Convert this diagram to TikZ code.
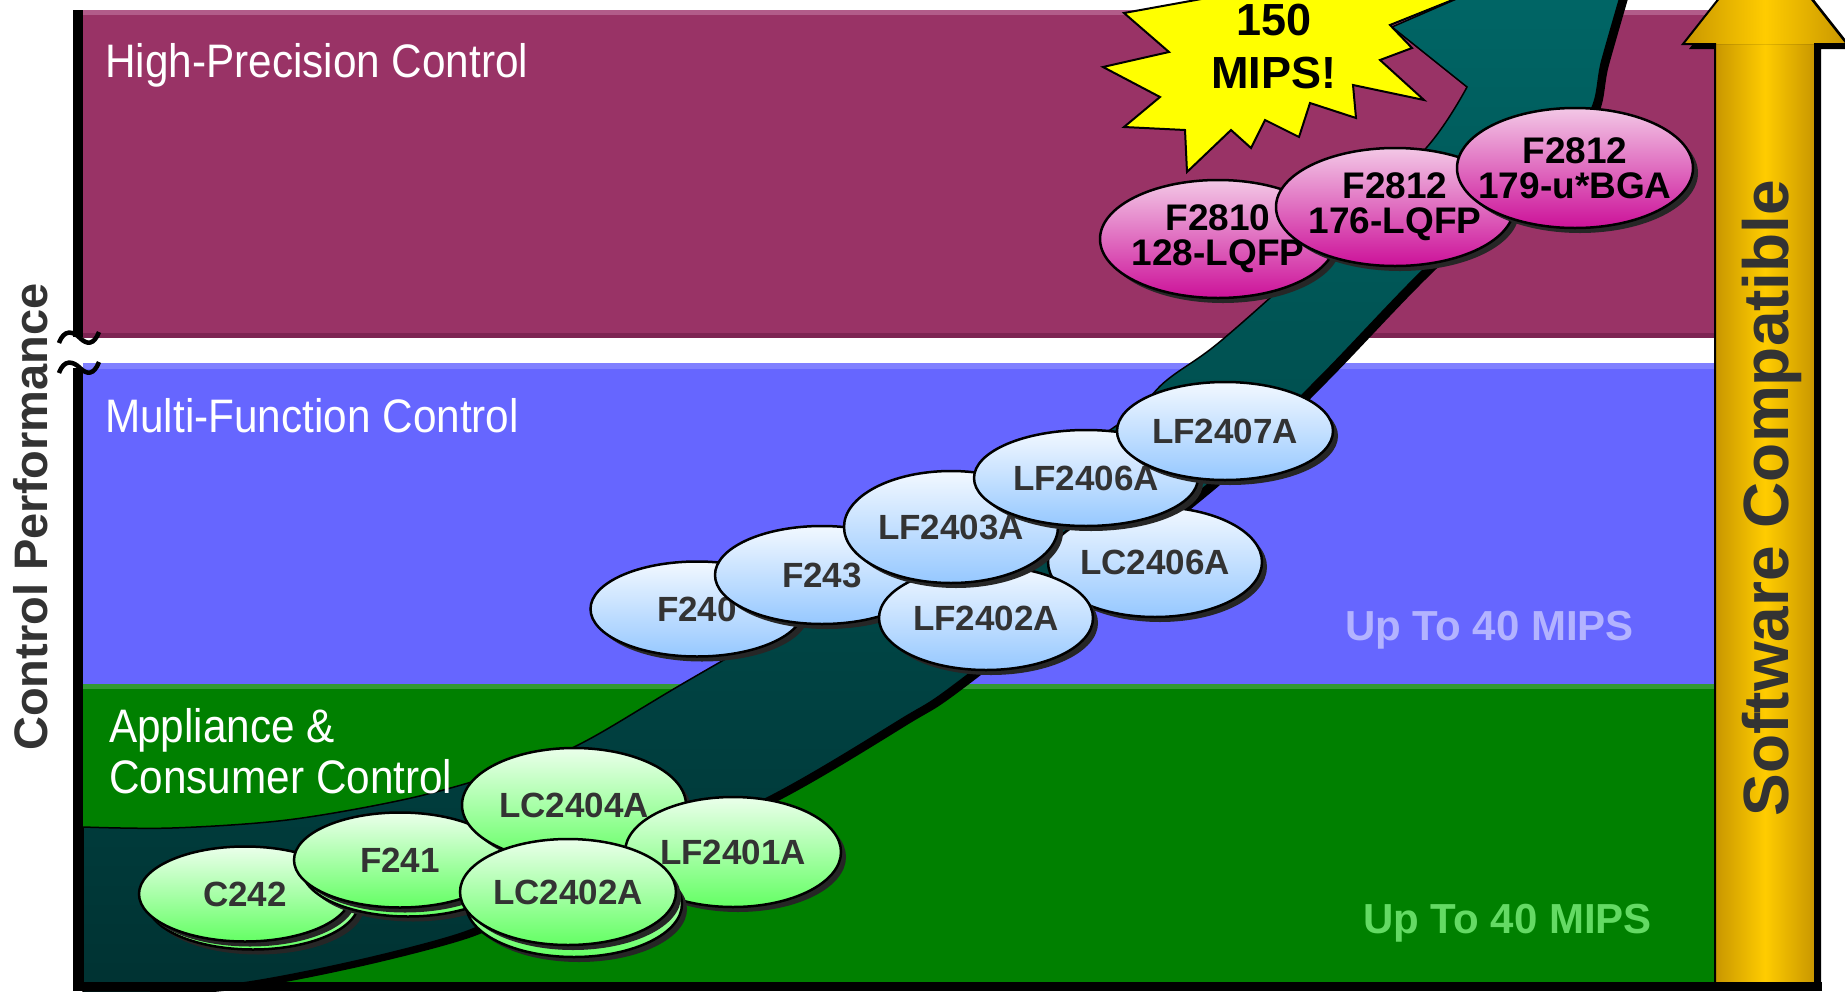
\documentclass[tikz,border=0pt]{standalone}
\usepackage{fontspec}
\setmainfont{Liberation Sans}
\newfontfamily\bandfont[FakeStretch=0.9]{Liberation Sans}
\usetikzlibrary{shapes.geometric,shadows}

\definecolor{hpband}{RGB}{153,51,102}
\definecolor{hpedge}{RGB}{178,92,138}
\definecolor{hpbase}{RGB}{125,36,82}
\definecolor{mfband}{RGB}{102,102,255}
\definecolor{mfedge}{RGB}{128,128,255}
\definecolor{acband}{RGB}{0,128,0}
\definecolor{acedge}{RGB}{51,153,51}
\definecolor{tealtop}{RGB}{0,102,102}
\definecolor{tealbot}{RGB}{0,50,50}
\definecolor{burst}{RGB}{255,255,0}
\definecolor{pinktop}{RGB}{243,200,230}
\definecolor{pinkbot}{RGB}{204,17,153}
\definecolor{bluetop}{RGB}{242,248,255}
\definecolor{bluebot}{RGB}{150,200,255}
\definecolor{greentop}{RGB}{235,255,235}
\definecolor{greenbot}{RGB}{100,255,100}
\definecolor{golddark}{RGB}{200,150,0}
\definecolor{goldmid}{RGB}{255,204,0}
\definecolor{labelgray}{RGB}{51,51,51}
\definecolor{mipsblue}{RGB}{179,179,255}
\definecolor{mipsgreen}{RGB}{100,218,100}

\begin{document}
\begin{tikzpicture}[x=1pt, y=-1pt, font=\fontsize{35}{36}\selectfont]
\tikzstyle{chip}=[ellipse, draw=black, line width=2.5pt, inner sep=-15pt, align=center, text=labelgray, font=\fontsize{35}{35}\selectfont\bfseries, drop shadow={shadow xshift=5pt, shadow yshift=-5pt, fill=black!85, opacity=1}]
\tikzstyle{pinkchip}=[chip, top color=pinktop, bottom color=pinkbot, text=black, font=\fontsize{37}{35}\selectfont\bfseries]
\tikzstyle{bluechip}=[chip, top color=bluetop, bottom color=bluebot]
\tikzstyle{greenchip}=[chip, top color=greentop, bottom color=greenbot]
\tikzstyle{bandtitle}=[anchor=base west, inner sep=0pt, text=white, font=\bandfont\fontsize{47}{51}\selectfont]
\tikzstyle{mips}=[anchor=base west, inner sep=0pt, font=\fontsize{42}{42}\selectfont\bfseries]
\tikzstyle{gold}=[left color=golddark, right color=golddark, middle color=goldmid]
\useasboundingbox (0,0) rectangle (1845,991);
\clip (0,0) rectangle (1845,991);

% bands
\fill[hpband] (83,10) rectangle (1715,338);
\fill[hpedge] (83,10) rectangle (1715,15);
\fill[hpbase] (83,333) rectangle (1715,338);
\fill[mfband] (83,363) rectangle (1715,684);
\fill[mfedge] (83,363) rectangle (1715,369);
\fill[acband] (83,684) rectangle (1715,982);
\fill[acedge] (83,684) rectangle (1715,689);

% growth swoosh
\path[draw=black, line width=1.5pt, top color=tealtop, bottom color=tealbot,
  preaction={fill=black, transform canvas={xshift=7pt, yshift=-5pt}}]
  (83,992) -- (83,827)
  -- plot[smooth, tension=0.55] coordinates {(83,827) (172,828) (287,820) (402,800) (488,777) (574,747) (689,680) (900,558) (1110,430) (1167,380) (1222,340) (1330,243) (1427,147) (1467,87)}
  -- (1392,27) -- (1500,-20) -- (1625,-20)
  -- plot[smooth, tension=0.55] coordinates {(1625,-20) (1602,60) (1588,115) (1530,170) (1420,273) (1317,380) (1213,480) (970,673) (900,720) (769,797) (631,857) (517,907) (462,933) (360,960) (249,982) (150,992)}
  -- cycle;

% starburst
\draw[fill=burst, line width=2pt] (1240,-8) -- (1124,13) -- (1169,52) -- (1103,67) -- (1160,97) -- (1124,127) -- (1185,130) -- (1187,172) -- (1231,130) -- (1251,148) -- (1265,120) -- (1299,137) -- (1310,103) -- (1356,118) -- (1353,85) -- (1424,100) -- (1380,60) -- (1412,48) -- (1390,25) -- (1480,-11) -- (1330,-40) -- cycle;
\node[align=center, anchor=base, inner sep=0pt, font=\fontsize{45}{53}\selectfont\bfseries] (burstlbl) at (1274,88) {150\\MIPS!};

% high-precision devices
\node[pinkchip, minimum width=236pt, minimum height=118pt] (f2810) at (1218,239) {F2810\\128-LQFP};
\node[pinkchip, minimum width=238pt, minimum height=118pt] (f2812q) at (1395,207) {F2812\\176-LQFP};
\node[pinkchip, minimum width=236pt, minimum height=120pt] (f2812b) at (1575,168) {F2812\\179-u*BGA};

% multi-function devices
\node[bluechip, minimum width=213pt, minimum height=95pt] (f240) at (697,609) {F240};
\node[bluechip, minimum width=214pt, minimum height=98pt] (f243) at (822,575) {F243};
\node[bluechip, minimum width=214pt, minimum height=110pt] (lc2406a) at (1155,562) {LC2406A};
\node[bluechip, minimum width=214pt, minimum height=104pt] (lf2402a) at (986,618) {LF2402A};
\node[bluechip, minimum width=214pt, minimum height=112pt] (lf2403a) at (951,527) {LF2403A};
\node[bluechip, minimum width=224pt, minimum height=96pt] (lf2406a) at (1086,478) {LF2406A};
\node[bluechip, minimum width=216pt, minimum height=98pt] (lf2407a) at (1225,431) {LF2407A};

% appliance devices
\node[greenchip, minimum width=212pt, minimum height=95pt] (c242s) at (253,902) {};
\node[greenchip, minimum width=212pt, minimum height=95pt] (c242) at (245,894) {C242};
\node[greenchip, minimum width=212pt, minimum height=95pt] (f241s) at (408,869) {};
\node[greenchip, minimum width=212pt, minimum height=95pt] (f241) at (400,860) {F241};
\node[greenchip, minimum width=224pt, minimum height=114pt] (lc2404a) at (574,805) {LC2404A};
\node[greenchip, minimum width=216pt, minimum height=110pt] (lf2401a) at (733,852) {LF2401A};
\node[greenchip, minimum width=216pt, minimum height=106pt] (lc2402as) at (574,904) {};
\node[greenchip, minimum width=216pt, minimum height=106pt] (lc2402a) at (568,892) {LC2402A};

% band titles
\node[bandtitle] (hptitle) at (105,77) {High-Precision Control};
\node[bandtitle] (mftitle) at (105,432) {Multi-Function Control};
\node[bandtitle, align=left] (actitle) at (109,793) {Appliance \&\\Consumer Control};
\node[mips, text=mipsblue] (mfmips) at (1345,640) {Up To 40 MIPS};
\node[mips, text=mipsgreen] (acmips) at (1363,933) {Up To 40 MIPS};

% software compatible arrow
\fill[black] (1721,990) -- (1721,49) -- (1689,49) -- (1771,-55) -- (1853,49) -- (1821,49) -- (1821,990) -- cycle;
\fill[gold] (1715,40) rectangle (1815,985);
\fill[gold] (1683,44) -- (1765,-60) -- (1847,44) -- cycle;
\draw[line width=2pt] (1715,985) -- (1715,44) -- (1683,44) -- (1765,-60) -- (1847,44) -- (1815,44) -- (1815,985) -- cycle;
\node[rotate=90, anchor=base, inner sep=0pt, text=labelgray, font=\fontsize{64}{64}\selectfont\bfseries] (swcompat) at (1788,498) {Software Compatible};

% axes
\fill[black] (73,10) rectangle (83,337);
\fill[black] (73,368) rectangle (83,991);
\fill[black] (73,982) rectangle (1822,991);
\draw[line width=4.5pt] (59,343) .. controls (64,329) and (73,331) .. (80,338) .. controls (87,345) and (94,345) .. (99,332);
\draw[line width=4.5pt] (59,373) .. controls (64,359) and (73,361) .. (80,368) .. controls (87,375) and (94,375) .. (99,362);
\node[rotate=90, anchor=base, inner sep=0pt, text=labelgray, font=\fontsize{47}{47}\selectfont\bfseries] (perf) at (47,517) {Control Performance};
\end{tikzpicture}
\end{document}
